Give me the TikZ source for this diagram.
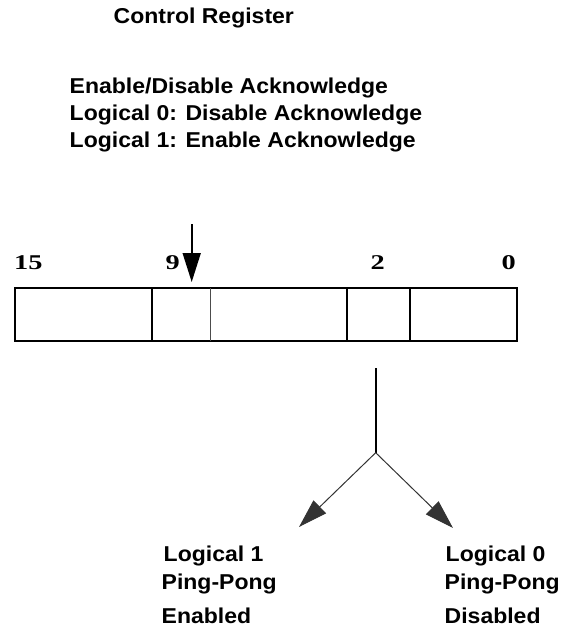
\documentclass[tikz,border=0pt]{standalone}
\usepackage{fontspec}
\usetikzlibrary{arrows.meta}
\newfontfamily\labfont[FakeStretch=1.07]{Liberation Sans}
\newfontfamily\numfont[FakeStretch=1.35]{Liberation Serif}
\begin{document}
\begin{tikzpicture}[x=1pt,y=-1pt,
  lab/.style={font=\labfont\bfseries\fontsize{21.5}{26}\selectfont,anchor=base west,inner sep=0pt},
  num/.style={font=\numfont\bfseries\fontsize{21}{25}\selectfont,anchor=base west,inner sep=0pt},
  regline/.style={line width=2.2pt},
  thinline/.style={line width=0.9pt,black!70},
  head/.style={-{Triangle[length=29pt,width=18pt]}}]
\useasboundingbox (0,0) rectangle (571,634);
% titles
\node[lab] (title) at (113.5,24) {Control Register};
\node[lab] (d1) at (69.5,93) {Enable/Disable Acknowledge};
\node[lab] (d2) at (69.5,120) {Logical 0: Disable Acknowledge};
\node[lab] (d3) at (69.5,147) {Logical 1: Enable Acknowledge};
% bit numbers
\node[num] (b15) at (14,269) {15};
\node[num] (b9) at (165.5,269) {9};
\node[num] (b2) at (370.5,269) {2};
\node[num] (b0) at (501.5,269) {0};
% register
\coordinate (rtl) at (14.7,288.3);
\coordinate (rbr) at (516.7,341);
\draw[regline] (rtl) rectangle (rbr);
\draw[regline] (152,288.3) -- (152,341);
\draw[regline] (347.3,288.3) -- (347.3,341);
\draw[regline] (410,288.3) -- (410,341);
\draw[thinline] (210,288.3) -- (210,341);
% top arrow
\coordinate (ain) at (191.7,224);
\coordinate (atip) at (191.7,282);
\draw[line width=1.6pt,head] (ain) -- (atip);
% branch
\coordinate (src) at (375.7,368);
\coordinate (j) at (375.7,452.7);
\coordinate (t1) at (299,527);
\coordinate (t0) at (453,528);
\draw[line width=2pt] (src) -- (j);
\draw[line width=1pt,black!80,head] (j) -- (t1);
\draw[line width=1pt,black!80,head] (j) -- (t0);
% bottom labels
\node[lab] (l1a) at (163.5,561) {Logical 1};
\node[lab] (l1b) at (161.5,589) {Ping-Pong};
\node[lab] (l1c) at (161.5,623) {Enabled};
\node[lab] (l0a) at (445.5,561) {Logical 0};
\node[lab] (l0b) at (444.5,589) {Ping-Pong};
\node[lab] (l0c) at (444.5,623) {Disabled};
\end{tikzpicture}
\end{document}
